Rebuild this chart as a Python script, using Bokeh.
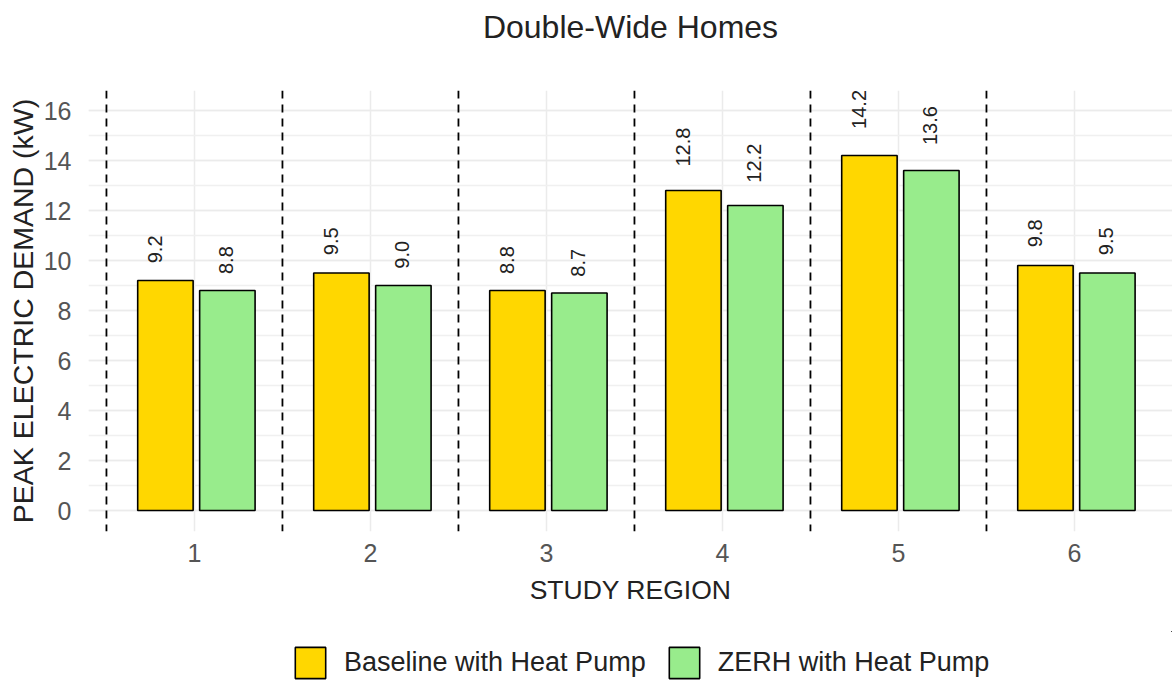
import math
from bokeh.plotting import figure
from bokeh.layouts import column
from bokeh.models import (ColumnDataSource, Span, Legend, LegendItem, FixedTicker,
                          SingleIntervalTicker, Range1d, Title)
from bokeh.transform import dodge
from bokeh.core.properties import value
from bokeh.embed import file_html
from bokeh.resources import INLINE

# ---- data ----
regions = ["1", "2", "3", "4", "5", "6"]
baseline = [9.2, 9.5, 8.8, 12.8, 14.2, 9.8]
zerh = [8.8, 9.0, 8.7, 12.2, 13.6, 9.5]
series_names = ["Baseline with Heat Pump", "ZERH with Heat Pump"]

title_text = "Double-Wide Homes"
x_title = "STUDY REGION"
y_title = "PEAK ELECTRIC DEMAND (kW)"

FONT = "Liberation Sans"
GOLD = "#FFD700"
GREEN = "#98EC8C"

xs = list(range(1, len(regions) + 1))
src = ColumnDataSource(dict(
    x=xs,
    base=baseline,
    zerh=zerh,
    base_lbl=[f"{v:.1f}" for v in baseline],
    zerh_lbl=[f"{v:.1f}" for v in zerh],
    base_ly=[v * 1.075 for v in baseline],
    zerh_ly=[v * 1.075 for v in zerh],
))

p = figure(width=1172, height=631, output_backend="svg", toolbar_location=None,
           x_range=Range1d(0.398, 6.557), y_range=Range1d(-0.84, 16.8),
           min_border_left=88, min_border_right=0, min_border_top=90,
           min_border_bottom=100)
p.outline_line_color = None
p.background_fill_color = "white"
p.border_fill_color = "white"

# spacer above frame, then the title above it
p.add_layout(Title(text=" ", text_font_size="10px", standoff=30), "above")
p.add_layout(Title(text=title_text, align="center", text_font=FONT,
                   text_font_size="32px", text_font_style="normal",
                   text_color="#222222", standoff=6), "above")

# grid
p.xaxis.ticker = FixedTicker(ticks=xs)
p.xaxis.major_label_overrides = {x: r for x, r in zip(xs, regions)}
p.yaxis.ticker = SingleIntervalTicker(interval=2, num_minor_ticks=2)
p.xgrid.grid_line_color = "#EBEBEB"
p.xgrid.grid_line_width = 1.5
p.ygrid.grid_line_color = "#EBEBEB"
p.ygrid.grid_line_width = 1.5
p.ygrid.minor_grid_line_color = "#F0F0F0"
p.ygrid.minor_grid_line_width = 1.5

for ax in (p.xaxis, p.yaxis):
    ax.axis_line_color = None
    ax.major_tick_line_color = None
    ax.minor_tick_line_color = None
    ax.major_tick_in = 0
    ax.major_tick_out = 0
    ax.major_label_text_font = FONT
    ax.major_label_text_font_size = "25px"
    ax.major_label_text_color = "#555555"
    ax.axis_label_text_font = FONT
    ax.axis_label_text_font_style = "normal"
    ax.axis_label_text_color = "#222222"

p.xaxis.axis_label = x_title
p.yaxis.axis_label = y_title
p.xaxis.axis_label_text_font_size = "26.5px"
p.yaxis.axis_label_text_font_size = "28.5px"
p.xaxis.major_label_standoff = 12
p.xaxis.axis_label_standoff = 10
p.yaxis.major_label_standoff = 13
p.yaxis.axis_label_standoff = 2

# dashed separators between regions
for i in range(len(regions)):
    p.add_layout(Span(location=xs[i] - 0.5, dimension="height", line_color="black",
                      line_width=1.8, line_dash="8 6"))

# bars
p.vbar(x=dodge("x", -0.165), top="base", bottom=0, width=0.315, source=src,
       fill_color=GOLD, line_color="black", line_width=1.6)
p.vbar(x=dodge("x", 0.187), top="zerh", bottom=0, width=0.315, source=src,
       fill_color=GREEN, line_color="black", line_width=1.6)

# value labels
p.text(x=dodge("x", -0.225), y="base_ly", text="base_lbl", source=src, angle=math.pi / 2,
       text_align="left", text_baseline="middle", text_font=value(FONT),
       text_font_size="20px", text_color="#222222")
p.text(x=dodge("x", 0.18), y="zerh_ly", text="zerh_lbl", source=src, angle=math.pi / 2,
       text_align="left", text_baseline="middle", text_font=value(FONT),
       text_font_size="20px", text_color="#222222")

# legend strip (separate figure below the chart); its bars lie outside its view
pl = figure(width=1172, height=52, output_backend="svg", toolbar_location=None,
            x_range=Range1d(-3, -2), y_range=Range1d(-3, -2),
            x_axis_type=None, y_axis_type=None,
            min_border_left=0, min_border_right=0, min_border_top=0, min_border_bottom=0)
pl.outline_line_color = None
pl.grid.visible = False
lr1 = pl.vbar(x="x", top="base", width=0.315, source=src, fill_color=GOLD,
              line_color="black", line_width=1.6)
lr2 = pl.vbar(x="x", top="zerh", width=0.315, source=src, fill_color=GREEN,
              line_color="black", line_width=1.6)
legend = Legend(items=[LegendItem(label=series_names[0], renderers=[lr1]),
                       LegendItem(label=series_names[1], renderers=[lr2])],
                orientation="horizontal", location=(203, 1),
                glyph_width=38, glyph_height=39, label_text_font=FONT,
                label_text_font_size="27px", label_text_color="#222222",
                label_standoff=15, spacing=19, padding=0, margin=0,
                border_line_color=None, background_fill_alpha=0)
pl.add_layout(legend, "center")

layout = column(p, pl, spacing=0)
open("out.html", "w").write(file_html(layout, INLINE))
